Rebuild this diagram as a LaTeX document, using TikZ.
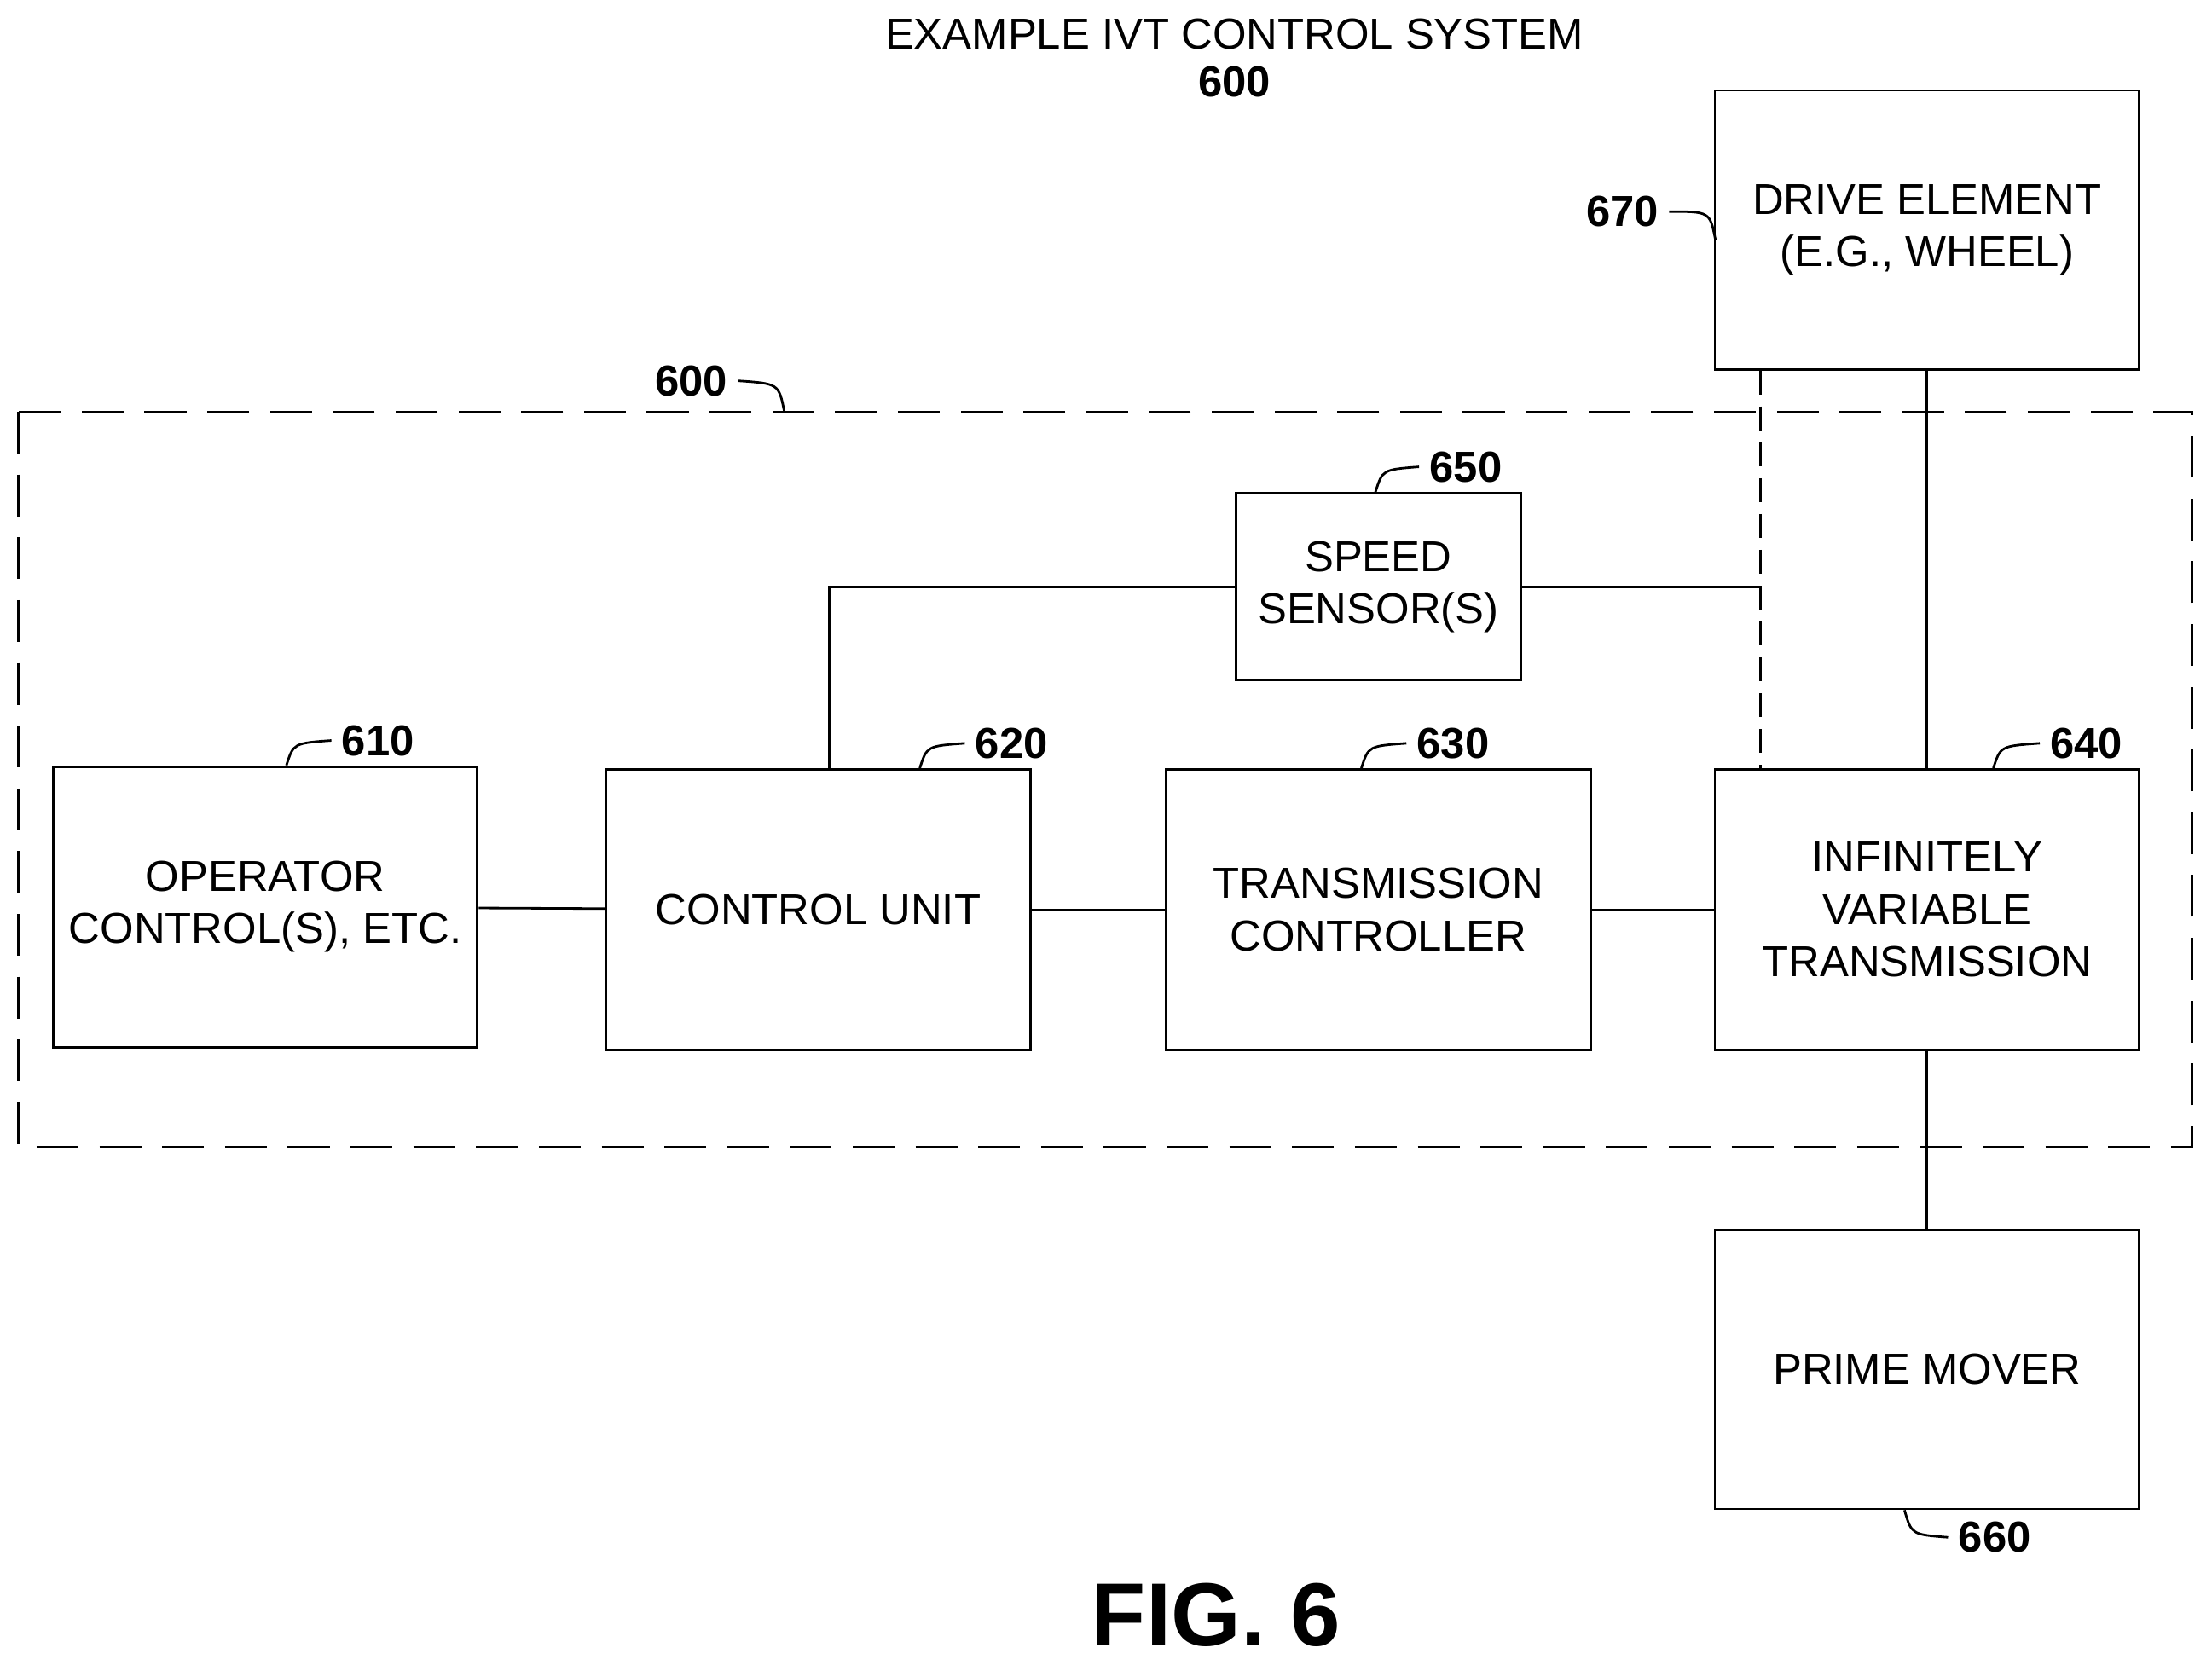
\documentclass[tikz,border=0pt]{standalone}
\usepackage{fontspec}
\setmainfont{Liberation Sans}
\usetikzlibrary{positioning}

\tikzset{
    blk/.style={draw, thick, align=center, font=\fontsize{14.5}{17.5}\selectfont},
    tag/.style={font=\bfseries\fontsize{14.5}{17}\selectfont},
    lead/.style={thick}
}

\begin{document}
\begin{tikzpicture}[x=0.01658cm, y=-0.01658cm]
    \useasboundingbox (0,0) rectangle (1568,1180);

    \node[font=\fontsize{14.5}{17}\selectfont] (T) at (875,24) {EXAMPLE IVT CONTROL SYSTEM};
    \node[tag] (Tn) at (875,60) {\underline{600}};

    \draw[thick, dash pattern=on 14pt off 7pt] (13,292) rectangle (1554,813);

    \node[blk, minimum width=4.99cm, minimum height=3.28cm] (DE) at (1366,163) {DRIVE ELEMENT\\(E.G., WHEEL)};
    \node[blk, minimum width=3.35cm, minimum height=2.2cm] (SS) at (977,416) {SPEED\\SENSOR(S)};
    \node[blk, minimum width=4.99cm, minimum height=3.3cm] (OC) at (188,643) {OPERATOR\\CONTROL(S), ETC.};
    \node[blk, minimum width=4.99cm, minimum height=3.3cm] (CU) at (580,645) {CONTROL UNIT};
    \node[blk, minimum width=4.99cm, minimum height=3.3cm] (TC) at (977,645) {TRANSMISSION\\CONTROLLER};
    \node[blk, minimum width=4.99cm, minimum height=3.3cm] (IVT) at (1366,645) {INFINITELY\\VARIABLE\\TRANSMISSION};
    \node[blk, minimum width=4.99cm, minimum height=3.28cm] (PM) at (1366,971) {PRIME MOVER};

    \coordinate (cuUp) at (588,416);
    \coordinate (ssEnd) at (1248,416);
    \draw[thick] (OC) -- (CU);
    \draw[thick] (CU) -- (TC);
    \draw[thick] (TC) -- (IVT);
    \draw[thick] (DE) -- (IVT);
    \draw[thick] (IVT) -- (PM);
    \draw[thick] (CU.north -| cuUp) -- (cuUp) -- (SS.west);
    \draw[thick] (SS.east) -- (ssEnd);
    \draw[thick, dash pattern=on 8pt off 4pt] (DE.south -| ssEnd) -- (IVT.north -| ssEnd);

    % reference numerals
    \node[tag] (n610) at (268,525) {610};
    \node[tag] (n620) at (717,527) {620};
    \node[tag] (n630) at (1030,527) {630};
    \node[tag] (n640) at (1479,527) {640};
    \node[tag] (n650) at (1039,331) {650};
    \node[tag] (n670) at (1150,150) {670};
    \node[tag] (n600) at (490,270) {600};
    \node[tag] (n660) at (1414,1090) {660};
    \draw[lead] (OC.north -| 203,0) .. controls (208,527) .. (n610.west);
    \draw[lead] (CU.north -| 652,0) .. controls (657,529) .. (n620.west);
    \draw[lead] (TC.north -| 965,0) .. controls (970,529) .. (n630.west);
    \draw[lead] (IVT.north -| 1413,0) .. controls (1418,529) .. (n640.west);
    \draw[lead] (SS.north -| 975,0) .. controls (980,333) .. (n650.west);
    \draw[lead] (n670.east) .. controls (1212,150) .. (1216,170);
    \draw[lead] (n600.east) .. controls (552,272) .. (556,292);
    \draw[lead] (PM.south -| 1350,0) .. controls (1355,1088) .. (n660.west);

    \node[font=\bfseries\fontsize{30}{34}\selectfont] (fig) at (862,1145) {FIG. 6};
\end{tikzpicture}
\end{document}
